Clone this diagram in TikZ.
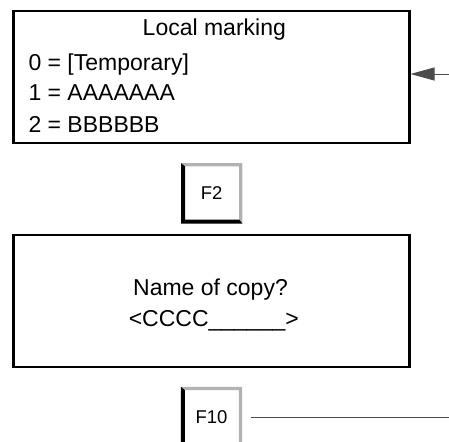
\documentclass[tikz,border=0pt]{standalone}
\usepackage{fontspec}
\setmainfont{Liberation Sans}
\usepackage{tikz}
\usetikzlibrary{calc}
\usetikzlibrary{arrows.meta}
\newcommand{\scrfont}{\fontsize{23}{31}\selectfont}
\newcommand{\keyfont}{\fontsize{18.5}{21}\selectfont}
\tikzset{
  % A display screen of the device
  screen/.style={
    draw=black, line width=2.2pt, fill=white, rectangle,
    minimum width=396pt, minimum height=132pt, inner sep=0pt},
  % A function key, drawn with a bevel round it
  keycap/.style={
    rectangle, minimum width=61pt, minimum height=60pt, inner sep=0pt,
    font=\keyfont},
  % Screen texts
  scrtext/.style={font=\scrfont, inner sep=0pt},
  % Connectors
  pointer/.style={-{Triangle[length=24pt, width=13pt]}, draw=black!70, line width=0.8pt},
  wire/.style={draw=black!70, line width=0.8pt},
}
\newcommand{\fkey}[3]{%
  \node[keycap] (#1) at (#2) {#3};
  \fill[black!30] (#1.north west) -- (#1.north east) -- (#1.south east)
    -- ($(#1.south east)+(-3.3,-4)$) -- ($(#1.north east)+(-3.3,3.3)$)
    -- ($(#1.north west)+(4,3.3)$) -- cycle;
  \fill[black] (#1.north west) -- (#1.south west) -- (#1.south east)
    -- ($(#1.south east)+(-3.3,-4)$) -- ($(#1.south west)+(4,-4)$)
    -- ($(#1.north west)+(4,3.3)$) -- cycle;}

\begin{document}
\begin{tikzpicture}[x=1pt, y=-1pt]

  \useasboundingbox (0,0) rectangle (449,441);
  \clip (0,0) rectangle (449,441);

  \node[screen] (menu) at (211.4,77.2) {};
  \node[scrtext, anchor=base] (title) at (214.3,36) {Local marking};
  \node[scrtext, anchor=base west] (opt0) at (28.3,70.5) {0 = [Temporary]};
  \node[scrtext, anchor=base west] (opt1) at (28.3,101) {1 = AAAAAAA};
  \node[scrtext, anchor=base west] (opt2) at (28.3,132) {2 = BBBBBB};

  \fkey{ftwo}{211.7,193.3}{F2}

  \node[screen] (ask) at (211.4,301.3) {};
  \node[scrtext, anchor=base] (prompt) at (210.5,295.7) {Name of copy?};
  \node[scrtext, anchor=base] (field) at (213.8,326.7) {<CCCC\_\_\_\_\_\_>};

  \fkey{ften}{211.5,417}{F10}

  \coordinate (feed) at (449,74);
  \draw[pointer] (feed) -- (feed -| menu.east);

  \coordinate (rim) at (449,417);
  \draw[wire, shorten <=9pt] (ften) -- (rim);

\end{tikzpicture}
\end{document}
